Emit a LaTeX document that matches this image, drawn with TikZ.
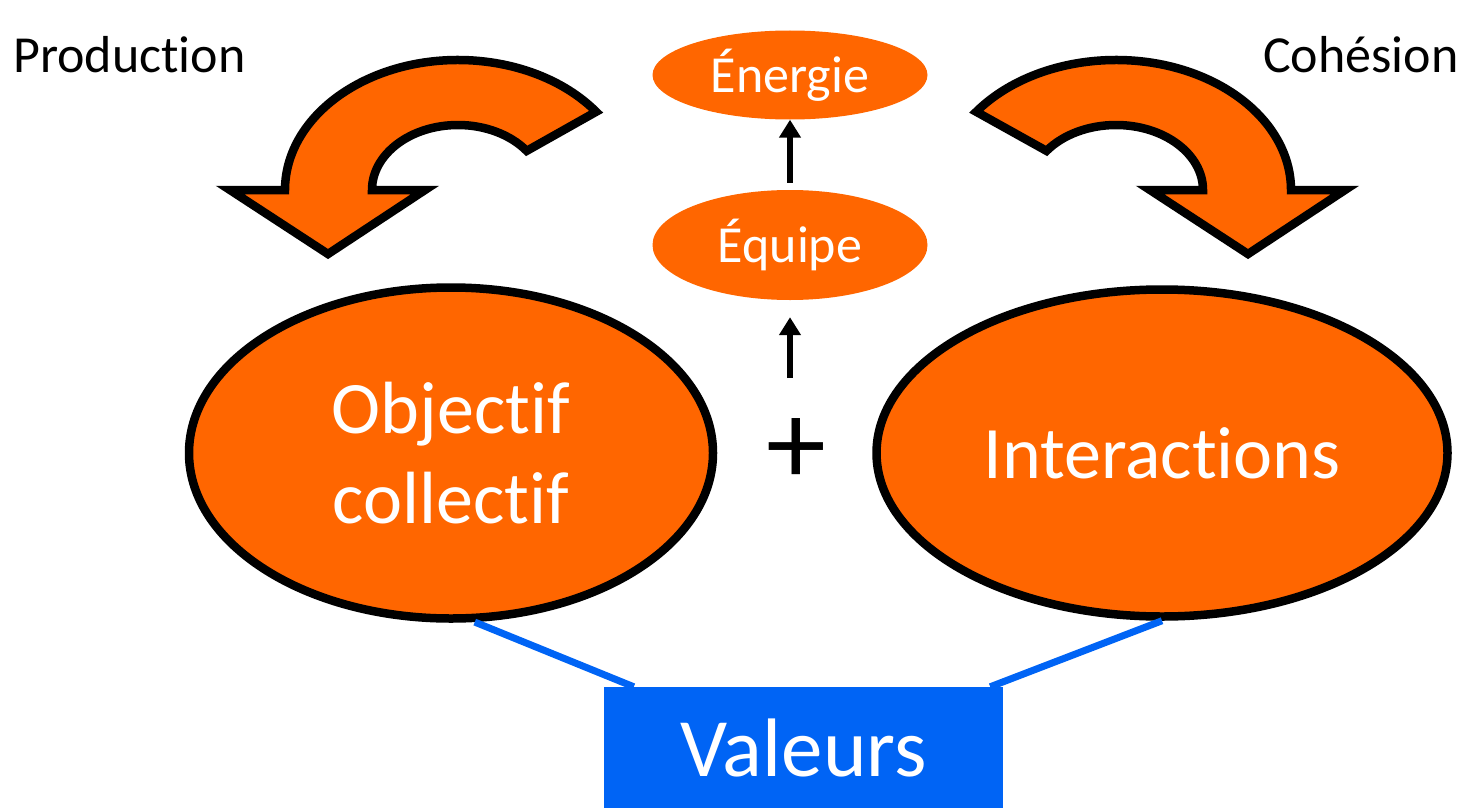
\documentclass[tikz,border=0pt]{standalone}
\usepackage{fontspec}
\setmainfont{Carlito}[RawFeature=-liga]
\usetikzlibrary{shapes.geometric,arrows.meta,calc}
\definecolor{orng}{RGB}{255,102,0}
\definecolor{blu}{RGB}{0,100,245}
\begin{document}
\begin{tikzpicture}[x=1pt,y=1pt,
  bigell/.style={ellipse,draw=black,line width=8.5pt,fill=orng,text=white,inner sep=0pt,align=center,font=\fontsize{74}{90}\selectfont},
  smallell/.style={ellipse,fill=orng,text=white,inner sep=0pt,minimum width=275pt,font=\fontsize{52}{60}\selectfont},
  bent/.style={fill=orng,draw=black,line width=8.5pt,line join=miter},
  uparrow/.style={line width=6pt,-{Triangle[width=21pt,length=18pt]}},
  bluelink/.style={draw=blu,line width=7pt},
  lbl/.style={inner sep=0pt,font=\fontsize{52}{60}\selectfont}]
\useasboundingbox (0,0) rectangle (1471,-808);

% curved arrows
\draw[bent] ($(458,-190)+(37:173pt and 130pt)$) arc[start angle=37,end angle=180,x radius=173pt,y radius=130pt]
  -- (230,-190) -- (328,-254) -- (425,-190) -- (372,-190)
  arc[start angle=180,end angle=37,x radius=86pt,y radius=65pt] -- cycle;
\draw[bent] ($(1116,-190)+(143:175pt and 130pt)$) arc[start angle=143,end angle=0,x radius=175pt,y radius=130pt]
  -- (1345,-190) -- (1248,-254) -- (1150,-190) -- (1203,-190)
  arc[start angle=0,end angle=143,x radius=87pt,y radius=65pt] -- cycle;

% labels
\node[lbl,anchor=base west] (prod) at (13,-73) {Production};
\node[lbl,anchor=base west] (coh) at (1263,-73) {Cohésion};

% small ellipses
\node[smallell,minimum height=89pt] (ene) at (790,-75) {Énergie};
\node[smallell,minimum height=110pt] (equ) at (790,-245) {Équipe};

% big ellipses
\node[bigell,minimum width=524pt,minimum height=331pt] (obj) at (451,-453) {Objectif\\collectif};
\node[bigell,minimum width=571pt,minimum height=327pt] (int) at (1162,-453) {Interactions};

% plus
\node[inner sep=0pt,font=\fontsize{120}{120}\selectfont] (plus) at (796,-452) {+};

% vertical arrows
\coordinate (start) at (790,-378);
\draw[uparrow] (start) -- ([yshift=-17pt]equ.south);
\draw[uparrow] ([yshift=7pt]equ.north) -- (ene.south);

% Valeurs box
\node[fill=blu,text=white,inner sep=0pt,minimum width=399pt,minimum height=121pt,
      font=\fontsize{83}{90}\selectfont] (val) at (803.5,-747.5) {Valeurs};

% blue links
\draw[bluelink] (obj.-82) -- ($(val.north west)+(30pt,0)$);
\draw[bluelink] (int.south) -- ($(val.north east)+(-13pt,0)$);
\end{tikzpicture}
\end{document}
